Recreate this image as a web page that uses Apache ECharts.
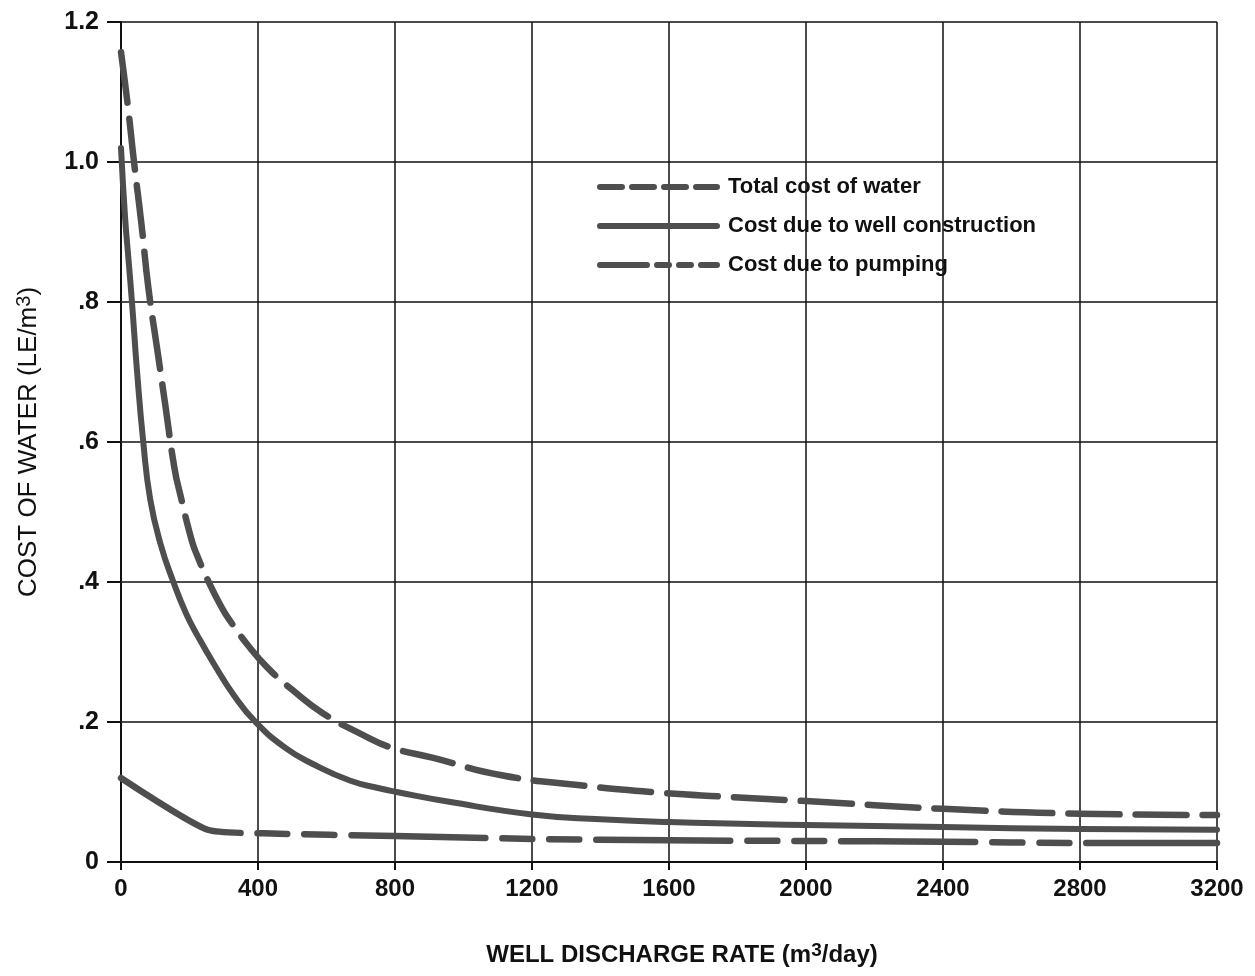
<!DOCTYPE html>
<html>
<head>
<meta charset="utf-8">
<style>
  html, body { margin: 0; padding: 0; background: #fff; }
  #chart { width: 1255px; height: 976px; }
</style>
<script src="https://cdn.jsdelivr.net/npm/echarts@6/dist/echarts.min.js"></script>
</head>
<body>
<div id="chart"></div>
<script>
// cost of water vs well discharge rate
var seriesNames = ['Total cost of water', 'Cost due to well construction', 'Cost due to pumping'];

var totalCost = [
  [0, 1.157], [20, 1.08], [38, 1.0], [60, 0.91], [80, 0.82], [105, 0.735], [129, 0.654],
  [156, 0.563], [174, 0.523], [205, 0.462], [218, 0.443], [258, 0.398], [297, 0.361],
  [315, 0.347], [370, 0.31], [429, 0.277], [500, 0.246], [588, 0.213], [700, 0.183],
  [786, 0.164], [909, 0.149], [1111, 0.124], [1334, 0.11], [1547, 0.1], [1772, 0.093],
  [2000, 0.087], [2400, 0.076], [2800, 0.069], [3200, 0.067]
];
var constructionCost = [
  [0, 1.02], [12, 0.92], [22, 0.86], [32, 0.8], [47, 0.7], [65, 0.6], [85, 0.519],
  [115, 0.455], [153, 0.4], [190, 0.355], [225, 0.322], [270, 0.284], [330, 0.238],
  [393, 0.2], [480, 0.163], [560, 0.14], [670, 0.116], [757, 0.105], [805, 0.1],
  [958, 0.086], [1200, 0.068], [1400, 0.061], [1600, 0.057], [2000, 0.053],
  [2400, 0.05], [2800, 0.047], [3200, 0.046]
];
var pumpingCost = [
  [0, 0.12], [253, 0.046], [417, 0.041], [800, 0.037], [1200, 0.033], [1600, 0.031],
  [2000, 0.03], [2400, 0.029], [2800, 0.027], [3200, 0.027]
];

var yLabels = { '0': '0', '0.2': '.2', '0.4': '.4', '0.6': '.6', '0.8': '.8', '1': '1.0', '1.2': '1.2' };

var ink = '#111';
var lineGray = '#4e4e4e';
var font = '"Liberation Sans", Arial, sans-serif';

var chart = echarts.init(document.getElementById('chart'), null, { renderer: 'canvas' });

var lineBase = { width: 6.5, color: lineGray, cap: 'round', join: 'round' };

chart.setOption({
  animation: false,
  backgroundColor: '#fff',
  grid: { left: 121, right: 38, top: 22, bottom: 114 },
  legend: {
    orient: 'vertical',
    left: 592,
    top: 171,
    itemWidth: 117,
    itemHeight: 14,
    itemGap: 17,
    textStyle: { color: ink, fontFamily: font, fontWeight: 'bold', fontSize: 22, padding: [0, 0, 0, 6] },
    data: [
      { name: seriesNames[0], itemStyle: { color: 'transparent', borderWidth: 0 },
        lineStyle: { width: 6, color: lineGray, cap: 'round', type: [22, 10] } },
      { name: seriesNames[1], itemStyle: { color: 'transparent', borderWidth: 0 },
        lineStyle: { width: 6, color: lineGray, cap: 'round', type: 'solid' } },
      { name: seriesNames[2], itemStyle: { color: 'transparent', borderWidth: 0 },
        lineStyle: { width: 6, color: lineGray, cap: 'round', type: [47, 10, 12, 10, 12, 10] } }
    ]
  },
  xAxis: {
    type: 'value',
    min: 0,
    max: 3200,
    interval: 400,
    name: 'WELL DISCHARGE RATE (m{sup|3}/day)',
    nameLocation: 'middle',
    nameGap: 79,
    nameTextStyle: {
      color: ink, fontFamily: font, fontWeight: 'bold', fontSize: 24, padding: [0, 0, 0, 26],
      rich: { sup: { fontFamily: font, fontWeight: 'bold', fontSize: 19, verticalAlign: 'top', padding: [0, 0, 10, 0] } }
    },
    axisLine: { lineStyle: { color: ink, width: 2 } },
    axisTick: { length: 8, lineStyle: { color: ink, width: 2 } },
    axisLabel: { color: ink, fontFamily: font, fontWeight: 'bold', fontSize: 24, margin: 15,
      formatter: function (v) { return String(v); } },
    splitLine: { show: true, lineStyle: { color: ink, width: 1.5 } }
  },
  yAxis: {
    type: 'value',
    min: 0,
    max: 1.2,
    interval: 0.2,
    name: 'COST OF WATER (LE/m{sup|3})',
    nameLocation: 'middle',
    nameRotate: 90,
    nameGap: 77,
    nameTextStyle: {
      color: ink, fontFamily: font, fontSize: 26,
      rich: { sup: { fontFamily: font, fontSize: 20, verticalAlign: 'top', padding: [0, 0, 10, 0] } }
    },
    axisLine: { show: true, lineStyle: { color: ink, width: 2 } },
    axisTick: { show: true, length: 14, lineStyle: { color: ink, width: 2 } },
    axisLabel: {
      color: ink, fontFamily: font, fontWeight: 'bold', fontSize: 25, margin: 22,
      formatter: function (v) { return yLabels[String(Math.round(v * 10) / 10)]; }
    },
    splitLine: { show: true, lineStyle: { color: ink, width: 1.5 } }
  },
  series: [
    { name: seriesNames[0], type: 'line', data: totalCost, symbol: 'none', smooth: 0.5,
      lineStyle: Object.assign({}, lineBase, { type: [51, 16] }) },
    { name: seriesNames[1], type: 'line', data: constructionCost, symbol: 'none', smooth: 0.5,
      lineStyle: Object.assign({}, lineBase, { width: 6 }) },
    { name: seriesNames[2], type: 'line', data: pumpingCost, symbol: 'none', smooth: 0.2,
      lineStyle: Object.assign({}, lineBase, { type: [134, 17, 30, 17, 30, 17] }) }
  ]
});
</script>
</body>
</html>
